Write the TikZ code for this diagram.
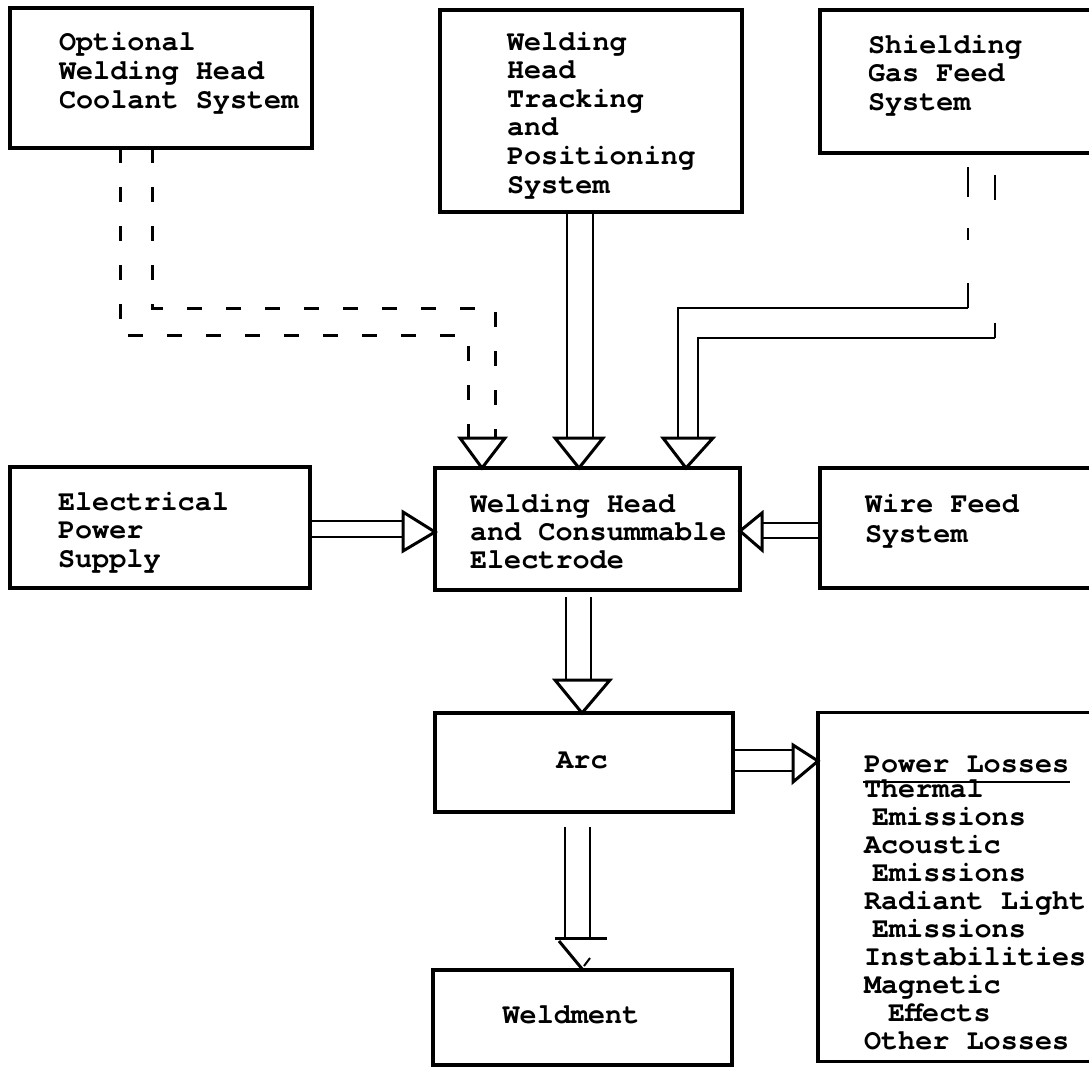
\documentclass[tikz,border=0pt]{standalone}
\usepackage{fontspec}
\newfontfamily\tw{TeX Gyre Cursor}
\usetikzlibrary{calc}
\newcommand\tlines[2]{{\fontsize{28.5}{#1}\selectfont\begin{tabular}[t]{@{}l@{}}#2\end{tabular}}}
\begin{document}
\begin{tikzpicture}[x=1pt,y=-1pt,
  box/.style={draw=black, line width=3.5pt, rectangle, inner sep=0pt, outer sep=0pt},
  txt/.style={inner sep=0pt, outer sep=0pt, anchor=base west, font=\tw\bfseries\fontsize{28.5}{28.5}\selectfont},
  shaft/.style={line width=2pt},
  pipe/.style={line width=2.5pt},
  dsh/.style={line width=3pt, dash pattern=on 15pt off 24pt},
  tri/.style={draw=black, line width=3pt, fill=white, line join=miter}]
\useasboundingbox (0,0) rectangle (1089,1069);
\clip (0,0) rectangle (1089,1069);
% boxes
\node[box, minimum width=302pt, minimum height=140pt] (cool)  at (161,78) {};
\node[box, minimum width=302pt, minimum height=202pt] (track) at (591,111) {};
\node[box, minimum width=290pt, minimum height=143pt] (gas)   at (965,81.5) {};
\node[box, minimum width=300pt, minimum height=121pt] (elec)  at (160,527.5) {};
\node[box, minimum width=305pt, minimum height=122pt] (head)  at (587.5,529) {};
\node[box, minimum width=290pt, minimum height=120pt] (wire)  at (965,528) {};
\node[box, minimum width=298pt, minimum height=99pt]  (arc)   at (584,762.5) {};
\node[box, minimum width=292pt, minimum height=349pt] (loss)  at (964,887) {};
\node[box, minimum width=299pt, minimum height=95pt]  (weld)  at (582.5,1017.5) {};
% texts
\node[txt] (coolt)  at (59,50)  {\tlines{29}{Optional\\Welding Head\\Coolant System}};
\node[txt] (trackt) at (507,50) {\tlines{28.6}{Welding\\Head\\Tracking\\and\\Positioning\\System}};
\node[txt] (gast)   at (868,53) {\tlines{28.5}{Shielding\\Gas Feed\\System}};
\node[txt] (elect)  at (58,510) {\tlines{28.5}{Electrical\\Power\\Supply}};
\node[txt] (headt)  at (470,512) {\tlines{28}{Welding Head\\and Consummable\\Electrode}};
\node[txt] (wiret)  at (865,512) {\tlines{30}{Wire Feed\\System}};
\node[txt, anchor=base] (arct) at (582,768) {Arc};
\node[txt, anchor=base] (weldt) at (571,1023) {Weldment};
\node[txt] (losst) at (864,772) {\tlines{27.9}{Power Losses\\[-2pt]Thermal\\\hspace*{8pt}Emissions\\Acoustic\\\hspace*{8pt}Emissions\\Radiant Light\\\hspace*{8pt}Emissions\\Instabilities\\Magnetic\\\hspace*{24pt}Effects\\Other Losses}};
\draw[line width=2pt] (863,782) -- (1070,782);
% coolant (dashed)
\draw[dsh] (120,0 |- cool.south) -- (120,335) -- (468,335) -- (468,438);
\draw[dsh] (152,0 |- cool.south) -- (152,308) -- (495,308) -- (495,438);
\draw[tri] (460,438) -- (505,438) -- (482,0 |- head.north) -- cycle;
% tracking
\draw[shaft] (567,0 |- track.south) -- (567,438);
\draw[shaft] (593,0 |- track.south) -- (593,438);
\draw[tri] (555,438) -- (603,438) -- (579,0 |- head.north) -- cycle;
% shielding gas
\draw[line width=1.5pt, dash pattern=on 0pt off 14pt on 30pt off 31pt on 12pt off 43pt on 40pt] (968,0 |- gas.south) -- (968,308);
\draw[line width=1.5pt, dash pattern=on 0pt off 22pt on 25pt off 123pt on 40pt] (995,0 |- gas.south) -- (995,338);
\draw[pipe] (678,438) -- (678,308) -- (968,308);
\draw[pipe] (698,438) -- (698,338) -- (995,338);
\draw[tri] (663,438) -- (713,438) -- (686,0 |- head.north) -- cycle;
% electrical power
\draw[pipe] (elec.east |- 0,521) -- (403,521);
\draw[pipe] (elec.east |- 0,537) -- (403,537);
\draw[tri] (403,512) -- (403,551) -- (head.west |- 0,532) -- cycle;
% wire feed
\draw[pipe] (wire.west |- 0,523) -- (762,523);
\draw[pipe] (wire.west |- 0,538) -- (762,538);
\draw[tri] (762,513) -- (762,550) -- (head.east |- 0,531) -- cycle;
% head -> arc
\draw[shaft, shorten <=7pt] (566,0 |- head.south) -- (566,680);
\draw[shaft, shorten <=7pt] (591,0 |- head.south) -- (591,680);
\draw[tri] (555,680) -- (610,680) -- (582,0 |- arc.north) -- cycle;
% arc -> losses
\draw[pipe] (arc.east |- 0,750) -- (793,750);
\draw[pipe] (arc.east |- 0,771) -- (793,771);
\draw[tri] (793,745) -- (793,782) -- (loss.west |- 0,761) -- cycle;
% arc -> weldment
\draw[shaft, shorten <=15pt] (565,0 |- arc.south) -- (565,938);
\draw[shaft, shorten <=15pt] (590,0 |- arc.south) -- (590,938);
\draw[line width=3pt] (555,938) -- (607,938);
\draw[line width=3pt] (559,941) -- (583,0 |- weld.north);
\draw[line width=2pt] (590,958) -- (584,966);
\end{tikzpicture}
\end{document}
